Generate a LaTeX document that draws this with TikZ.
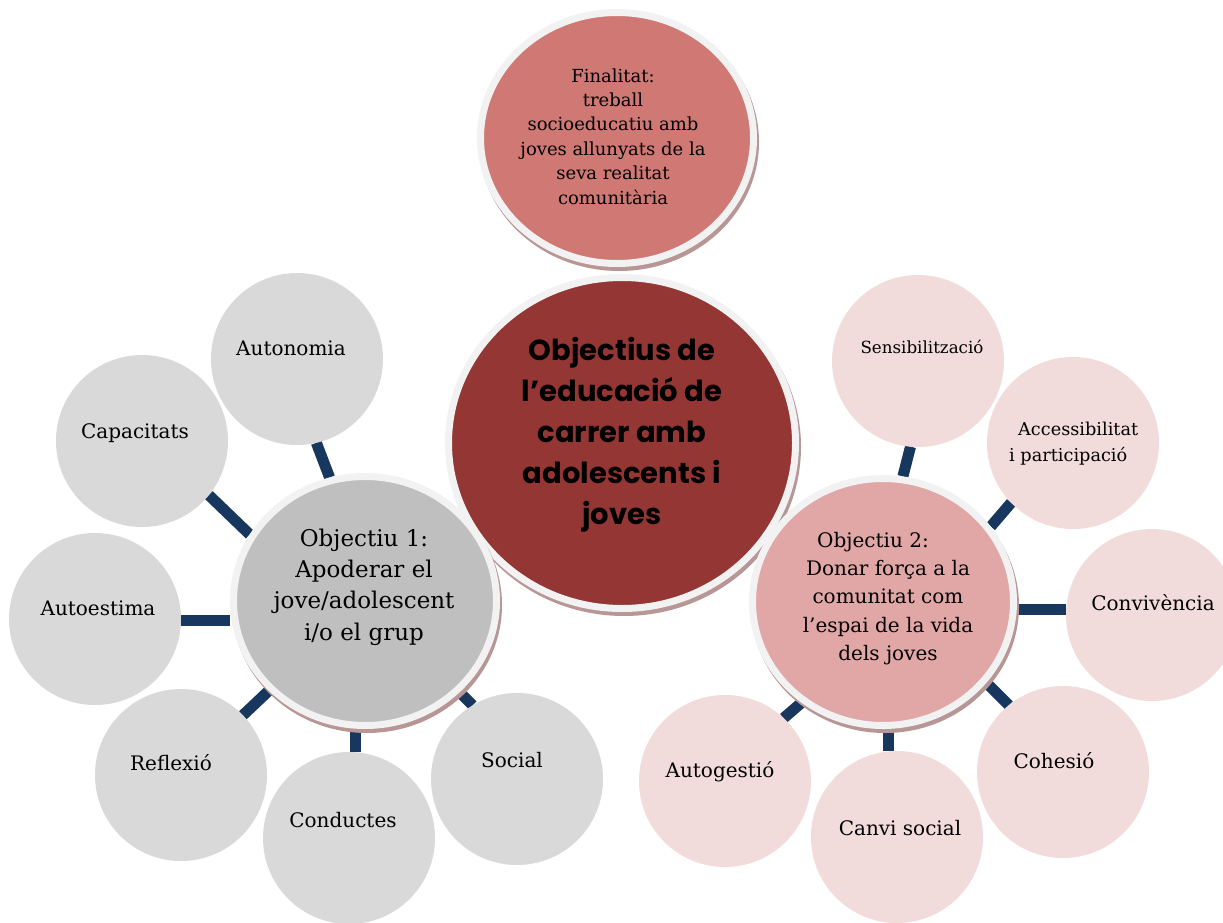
\documentclass[tikz,border=0pt]{standalone}
\usepackage{fontspec}
\setmainfont{DejaVu Serif}
\newfontfamily\titlefont{Poppins}
\usetikzlibrary{shapes.geometric,shadows}
\pgfdeclarelayer{background}
\pgfsetlayers{background,main}
\definecolor{finc}{RGB}{207,120,116}
\definecolor{cenc}{RGB}{148,54,52}
\definecolor{ob1c}{RGB}{191,191,191}
\definecolor{ob2c}{RGB}{224,167,166}
\definecolor{grayc}{RGB}{217,217,217}
\definecolor{pinkc}{RGB}{242,220,219}
\definecolor{ringc}{RGB}{242,242,242}
\definecolor{shadc}{RGB}{184,150,150}
\definecolor{barc}{RGB}{23,55,94}
\tikzset{
  bigc/.style={ellipse, inner sep=0pt, outer sep=3.5pt, draw=ringc, line width=7pt,
    drop shadow={shadow xshift=2pt, shadow yshift=-4pt, opacity=1, fill=shadc, draw=shadc, line width=7pt}},
  grayball/.style={circle, fill=grayc, minimum size=172pt, inner sep=0pt, outer sep=0pt},
  pinkball/.style={circle, fill=pinkc, minimum size=172pt, inner sep=0pt, outer sep=0pt},
  lbl/.style={anchor=base, inner sep=0pt, font=\fontsize{20}{24}\selectfont},
  blocktext/.style={anchor=north, align=center, inner sep=0pt},
  bar/.style={draw=barc, line width=11pt},
}
\begin{document}
\begin{tikzpicture}[x=1pt,y=-1pt]
\useasboundingbox (0,0) rectangle (1223,923);
% big circles
\node[bigc, fill=cenc, minimum width=347pt, minimum height=331pt] (cen) at (622,443) {};
\node[bigc, fill=finc, minimum width=273pt, minimum height=251pt] (fin) at (617,138) {};
\node[bigc, fill=ob1c, minimum width=263pt, minimum height=249pt] (ob1) at (365,601) {};
\node[bigc, fill=ob2c, minimum width=261pt, minimum height=247pt] (ob2) at (883,602) {};
% small grey circles
\node[grayball] (auto) at (297,359) {};
\node[grayball] (capa) at (142,441) {};
\node[grayball] (aest) at (95,619) {};
\node[grayball] (refl) at (181,775) {};
\node[grayball] (cond) at (349,838) {};
\node[grayball] (soci) at (517,779) {};
% small pink circles
\node[pinkball] (sens) at (918,361) {};
\node[pinkball] (acce) at (1073,443) {};
\node[pinkball] (conv) at (1152,615) {};
\node[pinkball] (cohe) at (1063,772) {};
\node[pinkball] (canv) at (897,837) {};
\node[pinkball] (agst) at (725,781) {};
% connectors
\begin{pgfonlayer}{background}
\draw[bar] (auto.-77) -- (ob1.106.5);
\draw[bar] (capa.-39.7) -- (ob1.150.6);
\draw[bar] (aest.-1.3) -- (aest.-1.3 -| ob1.west);
\draw[bar] (refl.44) -- (ob1.-137.7);
\draw[bar] (cond.86.7) -- (cond.86.7 |- ob1.south);
\draw[bar] (soci.121.6) -- (ob1.-44.4);
\draw[bar] (sens.-95.9) -- (ob2.81.4);
\draw[bar] (acce.-136.4) -- (ob2.35.6);
\draw[bar] (ob2.-3.3) -- (ob2.-3.3 -| conv.west);
\draw[bar] (cohe.129.9) -- (ob2.-38.1);
\draw[bar] (canv.96) -- (canv.96 |- ob2.south);
\draw[bar] (agst.47.4) -- (ob2.-129.9);
\end{pgfonlayer}
% texts
\node[blocktext, font=\fontsize{18}{24.4}\selectfont] (fint) at (613,68.3)
  {Finalitat:\\treball\\socioeducatiu amb\\joves allunyats de la\\seva realitat\\comunitària};
\node[blocktext, font=\titlefont\bfseries\fontsize{29}{41}\selectfont] (cent) at (622,337.5)
  {Objectius de\\l’educació de\\carrer amb\\adolescents i\\joves};
\node[blocktext, font=\fontsize{23}{31.3}\selectfont] (ob1t) at (364,528.5)
  {Objectiu 1:\\Apoderar el\\jove/adolescent\\i/o el grup};
\node[blocktext, font=\fontsize{20}{28.3}\selectfont] (ob2t) at (888,531.8)
  {Objectiu 2:\hspace*{30pt}\\Donar força a la\\comunitat com\\l’espai de la vida\\dels joves};
\node[lbl] (autot) at (291,355) {Autonomia};
\node[lbl] (capat) at (135,438) {Capacitats};
\node[lbl] (aestt) at (98,615) {Autoestima};
\node[lbl] (reflt) at (171,770) {Reflexió};
\node[lbl] (condt) at (343,827) {Conductes};
\node[lbl] (socit) at (512,767) {Social};
\node[lbl, font=\fontsize{16.7}{20}\selectfont] (senst) at (922,353) {Sensibilització};
\node[anchor=north west, align=left, inner sep=0pt, font=\fontsize{17.7}{26}\selectfont] (accet) at (1009,421.6)
  {\hspace*{9pt}Accessibilitat\\i participació};
\node[lbl] (convt) at (1153,610) {Convivència};
\node[lbl] (cohet) at (1054,768) {Cohesió};
\node[lbl] (canvt) at (900,835) {Canvi social};
\node[lbl] (agstt) at (720,777) {Autogestió};
\end{tikzpicture}
\end{document}
